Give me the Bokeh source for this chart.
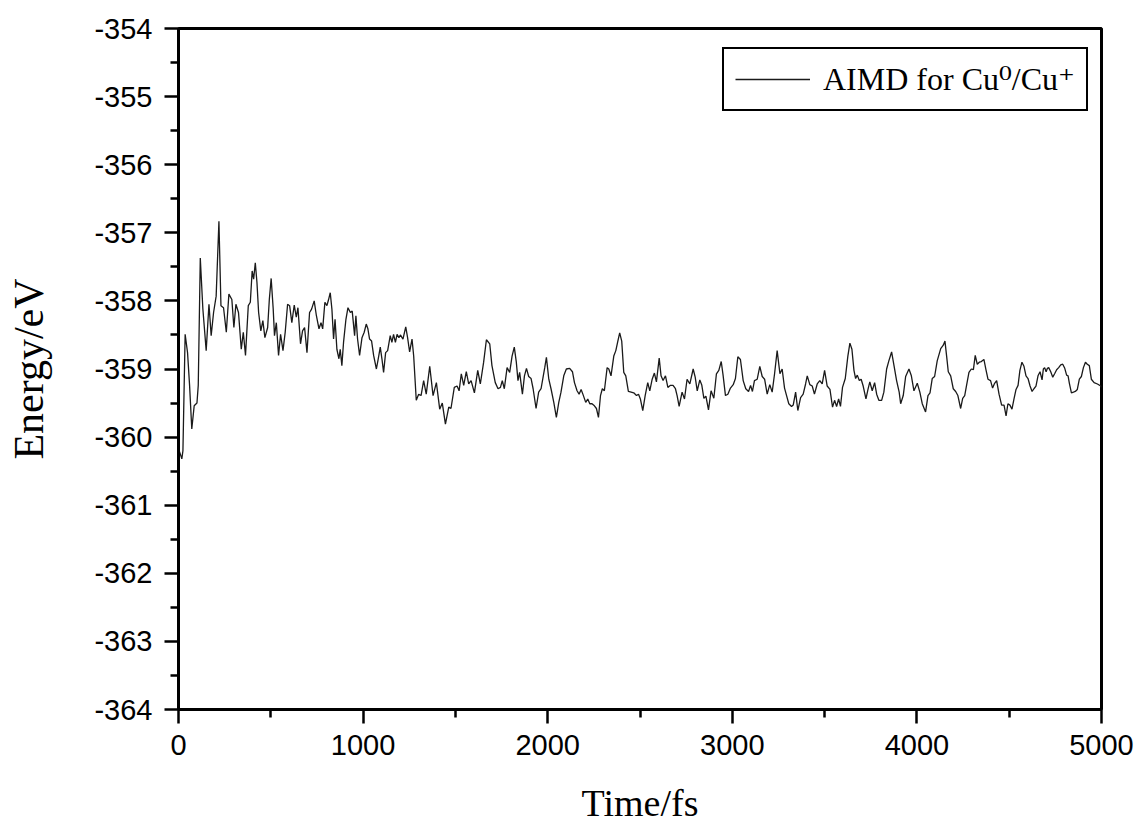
from bokeh.plotting import figure
from bokeh.models import FixedTicker, Range1d
from bokeh.embed import file_html
from bokeh.resources import INLINE

# ---- data ----
time_fs = [
    0, 10, 18, 24, 36, 49, 60, 72, 85, 100, 107, 118, 132, 150, 165, 177, 190, 204, 219, 230,
    244, 259, 273, 289, 300, 311, 325, 340, 351, 363, 378, 389, 399, 407, 416, 425, 434, 446, 457, 468,
    483, 492, 502, 513, 520, 530, 542, 553, 566, 578, 591, 602, 614, 627, 638, 647, 661, 672, 683, 696,
    710, 721, 735, 746, 761, 772, 781, 793, 804, 813, 822, 831, 840, 848, 858, 869, 876, 885, 894, 907,
    918, 931, 941, 954, 961, 970, 981, 994, 1006, 1017, 1026, 1035, 1046, 1057, 1072, 1082, 1093, 1102, 1111, 1122,
    1133, 1147, 1156, 1165, 1175, 1184, 1194,
    1202, 1216, 1231, 1241, 1252, 1265, 1274, 1288, 1301, 1314, 1328, 1342, 1361, 1379, 1397, 1415, 1429, 1446, 1464, 1476,
    1494, 1509, 1520, 1532, 1545, 1559, 1572, 1585, 1603, 1621, 1635, 1653, 1668, 1686, 1698, 1716, 1731, 1744, 1754, 1765,
    1780, 1794, 1807, 1819, 1830, 1839, 1848, 1863, 1874, 1885, 1897, 1910, 1921, 1937, 1951, 1964, 1975, 1984, 1993, 2006,
    2018, 2033, 2047, 2060, 2072, 2087, 2101, 2119, 2134, 2145, 2159, 2170, 2181, 2192, 2206, 2217, 2228, 2240, 2253, 2264,
    2275, 2286, 2296, 2307, 2322, 2331, 2343, 2358, 2369, 2380, 2390, 2401, 2412, 2423, 2437, 2452, 2466, 2481, 2492, 2502,
    2515, 2528, 2542, 2553, 2566, 2578, 2589, 2604, 2614, 2625, 2638, 2651, 2665, 2679, 2692, 2701, 2712,
    2728, 2741, 2755, 2770, 2788, 2799, 2810, 2824, 2835, 2846, 2857, 2871, 2885, 2900, 2914, 2927, 2940, 2950, 2963, 2976,
    2990, 3005, 3017, 3030, 3044, 3059, 3073, 3088, 3099, 3109, 3120, 3135, 3149, 3162, 3175, 3189, 3203, 3216, 3229, 3243,
    3258, 3270, 3283, 3294, 3306, 3321, 3330, 3343, 3355, 3370, 3384, 3397, 3406, 3420, 3433, 3445, 3460, 3474, 3487, 3500,
    3514, 3529, 3543, 3554, 3565, 3576, 3586, 3597, 3612, 3626, 3637, 3648, 3659, 3668, 3677, 3688, 3698, 3709, 3724, 3735,
    3745, 3758, 3771, 3782, 3794, 3809, 3821, 3836, 3848, 3863, 3876, 3890, 3904,
    3912, 3926, 3939, 3957, 3970, 3984, 4002, 4016, 4029, 4047, 4060, 4071, 4083, 4096, 4110, 4129, 4143, 4152, 4161, 4170,
    4183, 4197, 4210, 4222, 4237, 4248, 4259, 4269, 4282, 4295, 4306, 4316, 4327, 4338, 4349, 4363, 4374, 4385, 4399, 4410,
    4421, 4432, 4445, 4459, 4472, 4483, 4493, 4504, 4515, 4526, 4537, 4548, 4558, 4569, 4580, 4591, 4602, 4613, 4624, 4634,
    4645, 4656, 4667, 4678, 4685, 4692, 4700, 4707, 4714, 4725, 4736, 4746, 4757, 4768, 4779, 4790, 4801, 4811, 4819, 4826,
    4837, 4848, 4858, 4869, 4880, 4891, 4902, 4913, 4923, 4934, 4945, 4960, 4978, 4996, 5000,
]

energy_ev = [
    -360.17, -360.25, -360.32, -360.20, -358.49, -358.76, -359.24, -359.88, -359.54, -359.50, -359.24, -357.37, -358.12, -358.73, -358.05, -358.51, -358.17, -357.93, -356.83, -358.07,
    -358.10, -358.46, -357.90, -357.98, -358.39, -358.05, -358.17, -358.71, -358.46, -358.80, -358.07, -358.02, -357.56, -357.68, -357.44, -357.73, -358.17, -358.44, -358.29, -358.54,
    -358.39, -357.98, -357.67, -358.12, -358.51, -358.32, -358.80, -358.49, -358.73, -358.46, -358.05, -358.07, -358.32, -358.06, -358.24, -358.10, -358.63, -358.44, -358.39, -358.76,
    -358.17, -358.12, -358.00, -358.20, -358.41, -358.32, -358.41, -358.02, -358.07, -357.98, -357.88, -358.12, -358.56, -358.27, -358.71, -358.85, -358.71, -358.95, -358.61, -358.27,
    -358.10, -358.17, -358.15, -358.51, -358.22, -358.56, -358.80, -358.54, -358.46, -358.34, -358.41, -358.56, -358.59, -358.80, -359.00, -358.85, -358.68, -358.85, -359.05, -358.76,
    -358.73, -358.51, -358.61, -358.49, -358.61, -358.49, -358.54,
    -358.50, -358.56, -358.38, -358.54, -358.75, -358.56, -358.81, -359.46, -359.37, -359.39, -359.17, -359.37, -358.96, -359.39, -359.20, -359.59, -359.50, -359.81, -359.56, -359.58,
    -359.27, -359.25, -359.32, -359.07, -359.24, -359.04, -359.22, -359.17, -359.35, -359.02, -359.22, -358.90, -358.57, -358.63, -358.95, -359.20, -359.29, -359.27, -359.17, -359.29,
    -358.98, -359.05, -358.81, -358.68, -358.90, -359.17, -359.05, -359.37, -359.10, -358.99, -359.11, -359.14, -359.29, -359.58, -359.34, -359.29, -359.12, -358.98, -358.83, -359.15,
    -359.29, -359.49, -359.71, -359.49, -359.34, -359.10, -359.00, -358.99, -359.04, -359.20, -359.32, -359.37, -359.30, -359.38, -359.49, -359.44, -359.51, -359.51, -359.54, -359.58,
    -359.71, -359.39, -359.29, -359.32, -358.98, -359.00, -359.10, -358.81, -358.73, -358.59, -358.47, -358.59, -359.05, -359.10, -359.33, -359.34, -359.35, -359.39, -359.37, -359.44,
    -359.61, -359.39, -359.20, -359.32, -359.15, -359.06, -359.19, -358.84, -359.10, -359.17, -359.10, -359.27, -359.24, -359.24, -359.29, -359.39, -359.55,
    -359.34, -359.44, -359.15, -359.22, -359.00, -359.12, -359.32, -359.16, -359.24, -359.43, -359.40, -359.60, -359.32, -359.43, -359.07, -359.02, -358.89, -359.09, -359.39, -359.37,
    -359.28, -359.23, -359.14, -358.82, -358.86, -359.17, -359.29, -359.33, -359.24, -359.33, -359.17, -359.15, -358.96, -359.11, -359.15, -359.37, -359.23, -359.34, -359.07, -358.73,
    -359.07, -359.00, -359.28, -359.39, -359.51, -359.55, -359.53, -359.34, -359.61, -359.42, -359.37, -359.22, -359.10, -359.23, -359.25, -359.37, -359.22, -359.17, -359.22, -359.02,
    -359.25, -359.30, -359.56, -359.46, -359.55, -359.44, -359.55, -359.27, -359.14, -358.81, -358.62, -358.71, -359.02, -359.14, -359.09, -359.17, -359.15, -359.25, -359.44, -359.30,
    -359.19, -359.32, -359.20, -359.37, -359.46, -359.46, -359.34, -359.00, -358.88, -358.75, -358.95, -359.17, -359.34,
    -359.51, -359.39, -359.11, -359.00, -359.10, -359.32, -359.21, -359.34, -359.51, -359.63, -359.39, -359.35, -359.14, -359.11, -358.88, -358.70, -358.65, -358.59, -358.81, -359.04,
    -359.10, -359.29, -359.33, -359.39, -359.58, -359.43, -359.39, -359.24, -359.05, -359.00, -359.01, -358.80, -358.93, -358.90, -358.89, -358.86, -359.01, -359.15, -359.17, -359.28,
    -359.21, -359.17, -359.37, -359.53, -359.53, -359.69, -359.51, -359.53, -359.59, -359.44, -359.30, -359.24, -359.02, -358.90, -358.96, -359.10, -359.14, -359.25, -359.33, -359.29,
    -359.25, -359.10, -359.04, -359.16, -359.00, -358.98, -359.04, -358.99, -358.98, -359.04, -359.12, -359.07, -359.01, -358.98, -358.94, -358.93, -358.99, -359.09, -359.10, -359.21,
    -359.35, -359.34, -359.33, -359.30, -359.15, -359.11, -358.98, -358.90, -358.93, -358.95, -359.15, -359.20, -359.22, -359.25, -359.27,
]

x_ticks = [0, 1000, 2000, 3000, 4000, 5000]
y_ticks = [-364, -363, -362, -361, -360, -359, -358, -357, -356, -355, -354]
x_tick_labels = ["0", "1000", "2000", "3000", "4000", "5000"]
y_tick_labels = ["-364", "-363", "-362", "-361", "-360", "-359", "-358", "-357", "-356", "-355", "-354"]
series_label = "AIMD for Cu\u2070/Cu\u207a"
x_title = "Time/fs"
y_title = "Energy/eV"

# ---- figure ----
p = figure(
    width=1138, height=826,
    min_border_left=178, min_border_right=37, min_border_top=28, min_border_bottom=115,
    x_range=Range1d(0, 5000), y_range=Range1d(-364, -354),
    output_backend="svg", toolbar_location=None,
    background_fill_color="white", border_fill_color="white",
)
p.grid.visible = False
p.outline_line_color = "black"
p.outline_line_alpha = 1
p.outline_line_width = 3

p.line(time_fs, energy_ev, line_color="#1a1a1a", line_width=1.3, legend_label=series_label)

def minors(t):
    return [(a + b) / 2 for a, b in zip(t[:-1], t[1:])]

p.xaxis.ticker = FixedTicker(ticks=x_ticks, minor_ticks=minors(x_ticks))
p.yaxis.ticker = FixedTicker(ticks=y_ticks, minor_ticks=minors(y_ticks))
p.xaxis.major_label_overrides = {t: l for t, l in zip(x_ticks, x_tick_labels)}
p.yaxis.major_label_overrides = {t: l for t, l in zip(y_ticks, y_tick_labels)}

for ax in (p.xaxis[0], p.yaxis[0]):
    ax.axis_line_width = 3
    ax.axis_line_color = "black"
    ax.major_tick_line_width = 2.5
    ax.minor_tick_line_width = 2.5
    ax.major_tick_line_color = "black"
    ax.minor_tick_line_color = "black"
    ax.major_tick_out = 14
    ax.major_tick_in = 0
    ax.minor_tick_out = 8
    ax.minor_tick_in = 0
    ax.major_label_text_font = "Liberation Sans"
    ax.major_label_text_font_size = "29px"
    ax.major_label_text_color = "black"
    ax.major_label_standoff = 11
    ax.axis_label_text_font = "Liberation Serif"
    ax.axis_label_text_font_style = "normal"
    ax.axis_label_text_color = "black"

p.yaxis.major_label_standoff = 12
p.xaxis.axis_label = x_title
p.yaxis.axis_label = y_title
p.xaxis.axis_label_text_font_size = "38px"
p.yaxis.axis_label_text_font_size = "42px"
p.xaxis.axis_label_standoff = 24
p.yaxis.axis_label_standoff = 39

lg = p.legend[0]
lg.location = (544, 598)
lg.border_line_color = "black"
lg.border_line_alpha = 1
lg.border_line_width = 2
lg.background_fill_color = "white"
lg.background_fill_alpha = 1
lg.label_text_font = "'Liberation Serif', 'DejaVu Serif', serif"
lg.label_text_font_size = "32px"
lg.label_text_color = "black"
lg.glyph_width = 75
lg.glyph_height = 30
lg.label_standoff = 13
lg.padding = 11
lg.margin = 0
lg.spacing = 0

open("out.html", "w").write(file_html(p, INLINE))
